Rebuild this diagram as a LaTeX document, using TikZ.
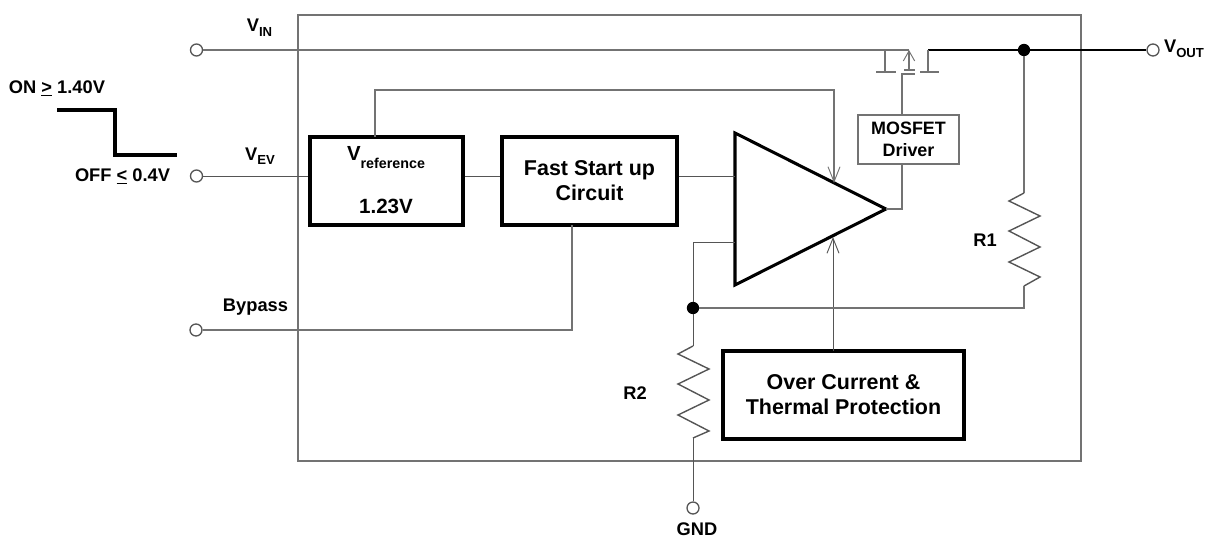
\documentclass[tikz,border=0pt]{standalone}
\usepackage{fontspec}
\setmainfont{Liberation Sans}
\usetikzlibrary{arrows.meta, positioning, calc}
\definecolor{wiregray}{RGB}{115, 115, 115}
\definecolor{darkwire}{RGB}{85, 85, 85}
\tikzset{
  wire/.style={draw=wiregray, line width=1.25pt},
  thinwire/.style={draw=darkwire, line width=0.8pt},
  zigwire/.style={draw=darkwire, line width=1.2pt, line join=miter},
  heavybox/.style={draw=black, line width=2.6pt, inner sep=0pt, align=center, font=\bfseries\fontsize{18.3}{21.4}\selectfont},
  label/.style={inner sep=0pt, font=\bfseries\fontsize{15.6}{18}\selectfont},
  terminal/.style={circle, draw=darkwire, fill=white, line width=1.1pt, minimum size=0.36cm, inner sep=0pt},
  junction/.style={circle, fill=black, minimum size=0.37cm, inner sep=0pt},
  openhead/.style={-{Straight Barb[length=0.45cm, width=0.36cm, line width=0.8pt]}}
}
\newcommand{\subtxt}[2]{#1\raisebox{-4pt}{\fontsize{11.2}{12}\selectfont #2}}
\begin{document}
\begin{tikzpicture}[x=0.03cm, y=-0.03cm]
  \useasboundingbox (0,0) rectangle (1209,537);

  % package outline
  \draw[wire] (298,15) rectangle (1081,461);

  % blocks
  \node[heavybox, minimum width=4.59cm, minimum height=2.64cm] (vref) at (386.5,181) {};
  \node[heavybox, minimum width=5.25cm, minimum height=2.64cm] (faststart) at (589.5,181) {Fast Start up\\Circuit};
  \node[draw=wiregray, line width=1.3pt, inner sep=0pt, align=center, minimum width=3.03cm, minimum height=1.47cm, font=\bfseries\fontsize{15.3}{18.7}\selectfont] (driver) at (908.5,139.5) {MOSFET\\Driver};
  \node[heavybox, minimum width=7.23cm, minimum height=2.64cm] (protect) at (843.5,395) {Over Current \&\\Thermal Protection};
  \node[label, anchor=base, font=\bfseries\fontsize{17.4}{18}\selectfont] (vreftxt) at (386,161) {V\raisebox{-6pt}{\fontsize{12.2}{13}\selectfont reference}};
  \node[label, anchor=base, font=\bfseries\fontsize{17.6}{18}\selectfont] (vrefval) at (386,213) {1.23V};

  % amplifier
  \coordinate (amptop) at (735,133);
  \coordinate (ampbot) at (735,285);
  \coordinate (ampout) at (886,209);
  \draw[black, line width=2.6pt, line join=miter] (amptop) -- (ampout) -- (ampbot) -- cycle;

  % terminals
  \node[terminal] (vin) at (196.5,50) {};
  \node[terminal] (vev) at (196.5,176) {};
  \node[terminal] (bypass) at (196,330) {};
  \node[terminal] (gnd) at (693,508) {};
  \node[terminal] (vout) at (1153,50) {};
  \node[junction] (outdot) at (1024,50) {};
  \node[junction] (fbdot) at (693,308) {};

  % pass transistor
  \coordinate (gateleft) at (885,50);
  \coordinate (bulk) at (909,50);
  \coordinate (drain) at (928,50);
  \coordinate (gatein) at (902,73);
  \draw[wire] (vin) -- (bulk);
  \draw[wire, {Straight Barb[length=0.3cm, width=0.34cm, line width=0.8pt]}-] (bulk) -- (909,70);
  \draw[wire] (gateleft) -- (885,72);
  \draw[wire] (876,72) -- (896,72);
  \draw[wire] (904,70) -- (915,70);
  \draw[wire] (902,74) -- (915,74);
  \draw[black, line width=1.1pt] (drain) -- (outdot) -- (vout);
  \draw[wire] (drain) -- (928,72);
  \draw[wire] (920,72) -- (939,72);
  \draw[wire] (driver.north -| gatein) -- (gatein);

  % signal lines
  \draw[thinwire] (vev) -- (vref.west |- vev);
  \draw[thinwire] (vref.east |- vev) -- (faststart.west |- vev);
  \draw[thinwire] (faststart.east |- vev) -- (amptop |- vev);
  \draw[wire, line width=1pt, openhead] (375,137) -- (375,90) -- (834,90) -- (834,183);
  \draw[wire, line width=1pt] (572,225) -- (572,330) -- (bypass);
  \draw[wire] (ampout) -- (902,209) -- (driver.south -| gatein);
  \draw[thinwire, openhead] (833,351) -- (833,237);
  \draw[thinwire] (735,242) -- (693,242) -- (fbdot);

  % resistors
  \draw[wire] (outdot) -- (1024,193);
  \draw[zigwire] (1024,193) -- (1009,201) -- (1040,216) -- (1009,231) -- (1040,247) -- (1009,262) -- (1040,277) -- (1024,286);
  \draw[wire] (1024,286) -- (1024,308) -- (fbdot);
  \draw[thinwire] (fbdot) -- (693,346);
  \draw[zigwire] (693,346) -- (678,354) -- (709,369) -- (678,384) -- (709,400) -- (678,415) -- (709,431) -- (693,438);
  \draw[thinwire] (693,438) -- (gnd);

  % enable step
  \draw[black, line width=3pt] (57,110) -- (115,110) -- (115,155) -- (177,155);

  % labels
  \node[label, anchor=base] (vinlbl) at (259.5,32) {\subtxt{V}{IN}};
  \node[label, anchor=base] (vevlbl) at (260,160) {\subtxt{V}{EV}};
  \node[label] (onlbl) at (57,88) {ON $\underline{\mbox{>}}$ 1.40V};
  \node[label] (offlbl) at (122.5,176) {OFF $\underline{\mbox{<}}$ 0.4V};
  \node[label] (bypasslbl) at (255.5,307) {Bypass};
  \node[label, anchor=base] (voutlbl) at (1184,53) {\subtxt{V}{OUT}};
  \node[label] (ronelbl) at (985,240) {R1};
  \node[label] (rtwolbl) at (635,393) {R2};
  \node[label] (gndlbl) at (697,529) {GND};
\end{tikzpicture}
\end{document}
